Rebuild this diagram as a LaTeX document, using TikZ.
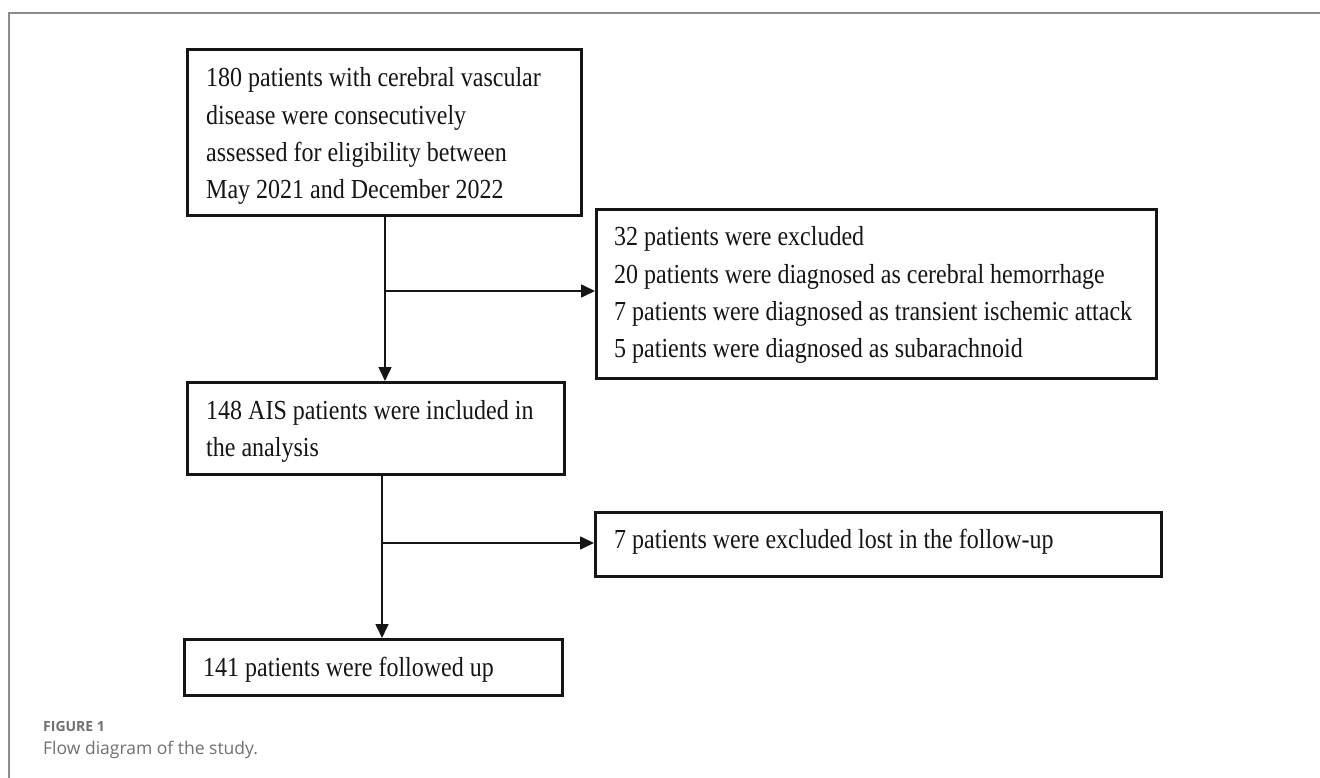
\documentclass[tikz,border=0pt]{standalone}
\usepackage{fontspec}
\setmainfont{Liberation Serif}[FakeStretch=0.873]
\newfontfamily\capfont{Open Sans}
\usetikzlibrary{arrows.meta}
\definecolor{framegray}{HTML}{8C8C8C}
\definecolor{capgray}{HTML}{707070}
\definecolor{inkblack}{HTML}{151515}
\begin{document}
\begin{tikzpicture}[x=1pt,y=-1pt,
  box/.style={draw=inkblack, line width=2.6pt, inner sep=0pt, anchor=north west},
  txt/.style={anchor=base west, inner sep=0pt, text=inkblack,
              font=\fontsize{27.5}{37.3}\selectfont},
  plainline/.style={draw=inkblack, line width=1.6pt},
  conn/.style={draw=inkblack, line width=1.6pt, -{Triangle[length=14pt,width=13pt]}},
  framestyle/.style={draw=framegray, line width=2pt},
  capstyle/.style={anchor=base west, inner sep=0pt, text=capgray}]
\useasboundingbox (0,0) rectangle (1320,778);
\fill[white] (0,0) rectangle (1320,778);
% outer frame
\draw[framestyle] (9,778) -- (9,13) -- (1320,13);
% boxes
\node[box, minimum width=394pt, minimum height=166pt] (b1) at (186,48) {};
\node[box, minimum width=560pt, minimum height=169pt] (b2) at (595,208) {};
\node[box, minimum width=377pt, minimum height=92pt] (b3) at (186,381) {};
\node[box, minimum width=566pt, minimum height=64pt] (b5) at (594,511) {};
\node[box, minimum width=378pt, minimum height=56pt] (b4) at (183,638) {};
% texts
\node[txt] (t1) at (206,87) {\begin{tabular}[t]{@{}l@{}}180 patients with cerebral vascular\\disease were consecutively\\assessed for eligibility between\\May 2021 and December 2022\end{tabular}};
\node[txt] (t2) at (614,246) {\begin{tabular}[t]{@{}l@{}}32 patients were excluded\\20 patients were diagnosed as cerebral hemorrhage\\7 patients were diagnosed as transient ischemic attack\\5 patients were diagnosed as subarachnoid\end{tabular}};
\node[txt] (t3) at (206,419) {\begin{tabular}[t]{@{}l@{}}148 AIS patients were included in\\the analysis\end{tabular}};
\node[txt] (t5) at (614,548) {7 patients were excluded lost in the follow-up};
\node[txt] (t4) at (203,676) {141 patients were followed up};
% connectors
\coordinate (j1) at (385,291);
\coordinate (j2) at (382,543);
\draw[plainline] (j1 |- b1.south) -- (j1);
\draw[conn] (j1) -- (j1 |- b3.north);
\draw[conn] (j1) -- (j1 -| b2.west);
\draw[plainline] (j2 |- b3.south) -- (j2);
\draw[conn] (j2) -- (j2 |- b4.north);
\draw[conn] (j2) -- (j2 -| b5.west);
% caption
\node[capstyle, font=\capfont\bfseries\fontsize{14}{16}\selectfont] (cap1) at (43,731) {FIGURE 1};
\node[capstyle, font=\capfont\fontsize{17.5}{20}\selectfont] (cap2) at (43,754) {Flow diagram of the study.};
\end{tikzpicture}
\end{document}
